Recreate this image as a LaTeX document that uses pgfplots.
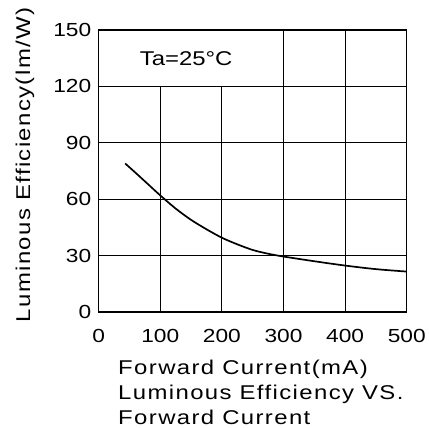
\documentclass[border=0pt]{standalone}
\usepackage{fontspec}
\setmainfont{Liberation Sans}
\newfontfamily\lbl[FakeStretch=1.2, LetterSpace=7]{Liberation Sans}
\newfontfamily\ylbl[FakeStretch=1.2, LetterSpace=7]{Liberation Sans}
\newfontfamily\tck[FakeStretch=1.2]{Liberation Sans}
\usepackage{pgfplots}
\pgfplotsset{compat=1.18}
\begin{document}
\begin{tikzpicture}
  \useasboundingbox (0bp,0bp) rectangle (429bp,428bp);
  \begin{axis}[
    at={(98.7bp,116bp)}, anchor=south west,
    scale only axis, width=308bp, height=282bp,
    xmin=0, xmax=500, ymin=0, ymax=150,
    xtick={0,100,...,500}, ytick={0,30,...,150},
    major tick length=0pt,
    ymajorgrids,
    grid style={black, line width=0.9pt},
    axis line style={line width=1.6pt},
    /pgf/number format/assume math mode=true,
    tick label style={font=\tck\fontsize{19}{19}\selectfont},
    xticklabel style={yshift=-14bp},
    yticklabel style={xshift=-4bp},
  ]
    % vertical grid lines (100 and 200 stop under the label box)
    \draw[line width=0.9pt] (axis cs:100,0) -- (axis cs:100,120);
    \draw[line width=0.9pt] (axis cs:200,0) -- (axis cs:200,120);
    \draw[line width=0.9pt] (axis cs:300,0) -- (axis cs:300,150);
    \draw[line width=0.9pt] (axis cs:400,0) -- (axis cs:400,150);
    \draw[line width=1.6pt] (axis cs:0,30) -- (axis cs:500,30);
    \node[font=\tck\fontsize{20}{20}\selectfont] at (axis cs:142,135) {Ta=25°C};
    \addplot[black, line width=1.7pt, smooth] coordinates {
      (43,79) (60,74) (80,68) (100,62) (125,55) (150,49) (175,44)
      (200,39.5) (225,36) (250,33) (275,31) (300,29.5) (350,27)
      (400,24.7) (450,22.8) (500,21.5)
    };
  \end{axis}
  \node[rotate=90, font=\ylbl\fontsize{20}{20}\selectfont, inner sep=0pt]
    at (25bp,263bp) {Luminous Efficiency(lm/W)};
  \node[anchor=north west, align=left, inner sep=0pt,
        font=\lbl\fontsize{20}{25}\selectfont]
    at (118bp,68bp) {Forward Current(mA)\\Luminous Efficiency VS.\\Forward Current};
\end{tikzpicture}
\end{document}
